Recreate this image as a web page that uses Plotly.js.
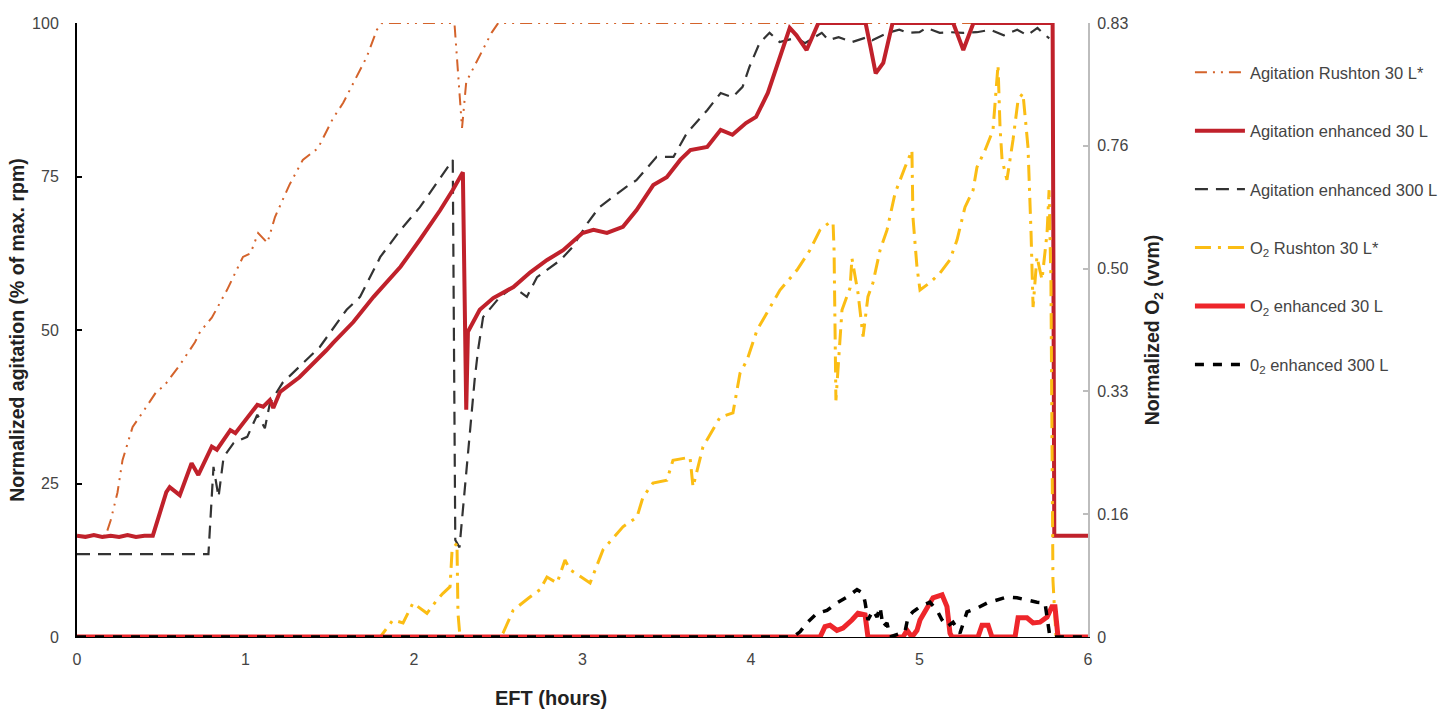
<!DOCTYPE html>
<html>
<head>
<meta charset="utf-8">
<script src="https://cdn.plot.ly/plotly-3.0.1.min.js"></script>
<style>html,body{margin:0;padding:0;background:#fff;}#chart{width:1442px;height:709px;}</style>
</head>
<body>
<div id="chart"></div>
<script>
// ---- Data ----
// Agitation Rushton 30 L* (% of max rpm)
var agitRushtonT = [0,0.17,0.20,0.24,0.27,0.30,0.33,0.40,0.47,0.52,0.61,0.70,0.73,0.80,0.89,0.96,0.985,1.03,1.075,1.13,1.175,1.26,1.34,1.43,1.52,1.58,1.64,1.72,1.78,1.81,2.24,2.26,2.285,2.31,2.345,2.40,2.46,2.50,5.79,5.80,6.0];
var agitRushtonV = [16.5,16.5,19.0,23.5,28.8,31.5,34.2,37.0,39.9,41.0,44.3,48.0,49.7,52.0,56.5,60.5,61.9,62.5,65.8,64.2,68.4,73.6,77.7,79.6,84.5,87.0,90.2,94.5,98.9,100,100,92.0,82.9,90.4,92.3,95.1,98.4,100,100,16.5,16.5];

// Agitation enhanced 30 L
var agitEnh30T = [0,0.05,0.10,0.15,0.20,0.25,0.30,0.35,0.40,0.45,0.53,0.55,0.61,0.68,0.72,0.80,0.83,0.91,0.94,1.01,1.07,1.105,1.145,1.165,1.205,1.32,1.365,1.48,1.52,1.64,1.76,1.92,2.035,2.155,2.23,2.29,2.31,2.32,2.39,2.47,2.59,2.69,2.79,2.885,3.00,3.065,3.145,3.24,3.32,3.42,3.50,3.58,3.64,3.74,3.82,3.89,3.97,4.03,4.10,4.17,4.23,4.27,4.33,4.40,4.68,4.71,4.74,4.785,4.84,5.20,5.26,5.32,5.79,5.80,6.0];
var agitEnh30V = [16.5,16.3,16.6,16.3,16.5,16.3,16.6,16.3,16.5,16.5,23.6,24.4,23.1,28.3,26.4,31.0,30.5,33.7,33.2,35.8,37.8,37.5,38.6,37.3,39.9,42.3,43.5,46.7,47.9,51.3,55.4,60.3,64.7,69.5,72.8,75.7,37.0,49.7,53.3,55.2,57.0,59.4,61.4,63.0,65.8,66.3,65.8,66.8,69.5,73.6,74.9,77.7,79.3,79.8,82.6,81.8,83.7,84.7,88.6,94.5,99.2,98.0,95.6,100,100,96.0,91.8,93.5,100,100,95.6,100,100,16.5,16.5];

// Agitation enhanced 300 L
var agitEnh300T = [0,0.78,0.81,0.84,0.87,0.93,1.01,1.07,1.115,1.145,1.22,1.32,1.44,1.60,1.68,1.80,1.92,2.035,2.135,2.23,2.245,2.27,2.36,2.38,2.41,2.51,2.59,2.67,2.73,2.87,2.94,3.03,3.10,3.18,3.26,3.32,3.44,3.54,3.62,3.74,3.82,3.89,3.95,3.99,4.05,4.11,4.17,4.27,4.32,4.42,4.46,4.52,4.60,4.69,4.72,4.81,4.88,4.93,5.00,5.04,5.12,5.18,5.26,5.34,5.42,5.50,5.58,5.64,5.70,5.73,5.77];
var agitEnh300V = [13.5,13.5,27.7,22.8,29.3,31.6,32.6,36.2,34.0,38.1,41.4,44.0,47.2,53.3,55.4,61.9,66.3,70.0,73.9,77.7,15.8,14.6,41.9,46.7,52.1,55.4,57.0,55.4,58.6,61.4,63.5,67.4,70.0,71.7,73.3,74.4,78.2,78.2,82.1,85.8,88.6,87.9,89.6,92.8,96.7,98.4,96.9,97.6,96.7,98.4,97.2,97.7,96.9,97.7,97.2,98.4,98.9,98.4,98.5,99.2,98.4,98.5,98.4,98.5,98.9,98.0,98.9,98.0,99.2,98.4,97.5];

// O2 Rushton 30 L* (vvm)
var o2RushtonT = [0,1.80,1.875,1.935,1.994,2.077,2.136,2.172,2.214,2.226,2.255,2.261,2.273,2.51,2.528,2.588,2.688,2.748,2.789,2.849,2.896,2.926,3.045,3.122,3.240,3.323,3.359,3.418,3.501,3.537,3.638,3.656,3.715,3.816,3.893,3.935,3.976,4.036,4.172,4.273,4.350,4.409,4.469,4.487,4.493,4.499,4.504,4.540,4.588,4.599,4.635,4.665,4.694,4.724,4.766,4.807,4.855,4.914,4.955,4.961,4.985,5.003,5.062,5.122,5.181,5.223,5.270,5.318,5.341,5.389,5.436,5.466,5.478,5.490,5.519,5.555,5.585,5.614,5.644,5.662,5.674,5.697,5.727,5.757,5.769,5.780,5.792,5.810,6.0];
var o2RushtonV = [0,0,0.023,0.019,0.046,0.032,0.050,0.059,0.068,0.118,0.127,0.032,0,0,0.005,0.036,0.054,0.064,0.081,0.073,0.104,0.091,0.073,0.118,0.149,0.162,0.189,0.208,0.212,0.239,0.243,0.203,0.257,0.297,0.303,0.357,0.374,0.415,0.469,0.496,0.523,0.550,0.561,0.560,0.523,0.343,0.320,0.442,0.472,0.512,0.465,0.406,0.460,0.479,0.523,0.550,0.600,0.635,0.658,0.568,0.500,0.469,0.479,0.492,0.510,0.537,0.581,0.604,0.635,0.658,0.685,0.773,0.689,0.645,0.618,0.672,0.726,0.735,0.662,0.546,0.446,0.514,0.483,0.546,0.604,0.479,0.077,0,0];

// O2 enhanced 30 L (vvm)
var o2Enh30T = [0,4.41,4.439,4.469,4.510,4.546,4.599,4.635,4.677,4.694,4.902,4.926,4.955,4.985,5.003,5.045,5.080,5.134,5.163,5.181,5.193,5.347,5.371,5.407,5.430,5.567,5.585,5.638,5.674,5.715,5.757,5.786,5.804,5.822,6.0];
var o2Enh30V = [0,0,0.014,0.016,0.009,0.012,0.023,0.032,0.030,0,0,0.009,0,0.009,0.023,0.041,0.053,0.057,0.041,0.005,0,0,0.016,0.016,0,0,0.026,0.026,0.019,0.020,0.027,0.041,0.041,0,0];

// 02 enhanced 300 L (vvm)
var o2Enh300T = [0,4.249,4.291,4.332,4.392,4.451,4.510,4.570,4.629,4.665,4.677,4.694,4.724,4.748,4.766,4.783,4.807,4.825,4.914,4.932,4.961,5.003,5.062,5.104,5.134,5.163,5.199,5.240,5.282,5.341,5.401,5.460,5.519,5.579,5.638,5.697,5.745,5.774,6.0];
var o2Enh300V = [0,0,0.007,0.019,0.032,0.036,0.046,0.054,0.064,0.059,0.047,0.023,0.036,0.027,0.041,0.014,0.019,0,0.007,0.027,0.034,0.041,0.047,0.036,0.023,0.014,0.020,0.005,0.034,0.039,0.046,0.050,0.054,0.053,0.050,0.047,0.046,0,0];

// Axis ticks
var xTickVals = [0,1,2,3,4,5,6];
var leftTickVals = [0,25,50,75,100];
var rightTickVals = [0,0.166,0.332,0.498,0.664,0.83];
var rightTickText = ['0','0.16','0.33','0.50','0.76','0.83'];

var names = ['Agitation Rushton 30 L*','Agitation enhanced 30 L','Agitation enhanced 300 L',
             'O<sub>2</sub> Rushton 30 L*','O<sub>2</sub> enhanced 30 L','0<sub>2</sub> enhanced 300 L'];

var FONT = '"Liberation Sans", Arial, Helvetica, sans-serif';

var traces = [
  {x:o2RushtonT, y:o2RushtonV, yaxis:'y2', name:names[3], legendgroup:'g4', legendrank:4,
   mode:'lines', line:{color:'#fbbd14', width:3, dash:'16px,7px,3px,7px'}},
  {x:agitRushtonT, y:agitRushtonV, name:names[0], legendgroup:'g1', legendrank:1,
   mode:'lines', line:{color:'#d4632b', width:2, dash:'12px,6px,2px,6px,2px,6px'}},
  {x:agitEnh300T, y:agitEnh300V, name:names[2], legendgroup:'g3', legendrank:3,
   mode:'lines', line:{color:'#333333', width:2.2, dash:'13px,8px'}},
  {x:agitEnh30T, y:agitEnh30V, name:names[1], legendgroup:'g2', legendrank:2,
   mode:'lines', line:{color:'#c0212b', width:4}},
  {x:o2Enh30T, y:o2Enh30V, yaxis:'y2', name:names[4], legendgroup:'g5', legendrank:5,
   mode:'lines', line:{color:'#ee262b', width:5}},
  {x:o2Enh300T, y:o2Enh300V, yaxis:'y2', name:names[5], legendgroup:'g6', legendrank:6,
   mode:'lines', line:{color:'#000000', width:3.5, dash:'9px,9px'}}
];
traces.forEach(function(t){ t.hoverinfo='skip'; });

var layout = {
  width:1442, height:709,
  margin:{l:77, r:354, t:23, b:72},
  paper_bgcolor:'#ffffff', plot_bgcolor:'#ffffff',
  font:{family:FONT, color:'#444', size:16},
  showlegend:true,
  legend:{xref:'container', yref:'container', x:0.8252, xanchor:'left', y:0.9224, yanchor:'top',
          tracegroupgap:34, itemwidth:50, font:{family:FONT, size:16.5, color:'#444'}, bgcolor:'rgba(0,0,0,0)'},
  xaxis:{range:[0,6], tickvals:xTickVals, showgrid:false, zeroline:false, automargin:false,
         showline:true, linecolor:'#000', linewidth:1, ticks:'', ticklabelstandoff:8,
         tickfont:{size:16, color:'#444'}},
  yaxis:{range:[0,100], tickvals:leftTickVals, showgrid:false, zeroline:false, automargin:false,
         showline:true, linecolor:'#000', linewidth:2, ticks:'inside', ticklen:5, tickwidth:2, tickcolor:'#000',
         ticklabelstandoff:13, tickfont:{size:16, color:'#444'},
         title:{text:'<b>Normalized agitation (% of max. rpm)</b>', font:{size:19.5, color:'#222'}, standoff:2}},
  yaxis2:{range:[0,0.83], overlaying:'y', side:'right', tickvals:rightTickVals, ticktext:rightTickText,
          showgrid:false, zeroline:false, showline:true, linecolor:'#bdbdbd', linewidth:2, automargin:false,
          ticks:'inside', ticklen:5, tickwidth:2, tickcolor:'#bdbdbd',
          ticklabelstandoff:4, tickfont:{size:16, color:'#444'},
          title:{text:'<b>Normalized O<sub>2</sub> (vvm)</b>', font:{size:19.5, color:'#222'}, standoff:18}},
  annotations:[{text:'<b>EFT (hours)</b>', xref:'paper', yref:'paper', x:0.469, y:-0.0993,
                xanchor:'center', yanchor:'middle', showarrow:false, font:{size:20, color:'#222'}}]
};

Plotly.newPlot('chart', traces, layout, {displayModeBar:false, staticPlot:true});
</script>
</body>
</html>
